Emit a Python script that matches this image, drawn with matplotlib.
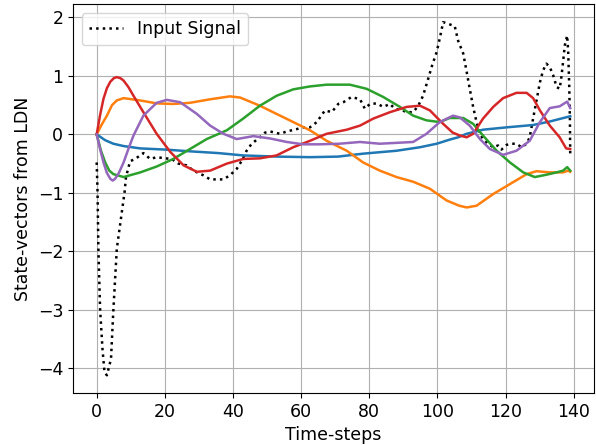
import matplotlib
matplotlib.use("Agg")
import matplotlib.pyplot as plt

# input signal
sig_t = [0, 0.25, 0.5, 1.0, 1.7, 2.3, 3.0, 4.2, 4.9, 5.9, 8.2, 8.6, 9.8, 11.3, 13.7, 15.7,
         17.6, 20.1, 22, 24, 26.4, 28.4, 31.3, 33.3, 35.7, 37.2, 39.1, 41.1, 42.6, 44, 45.5,
         47.9, 49.4, 50.9, 53.8, 55.8, 58.7, 60.6, 62.6, 64.6, 67, 69, 70.9, 72.4, 74.8,
         77.3, 78.7, 80.2, 82.2, 84.1, 86.1, 87.5, 89.5, 91.4, 92.9, 94.4, 95.8, 97.3, 98.3,
         99.8, 100.7, 101.7, 103.2, 105.1, 106.1, 107.6, 108.6, 109.5, 110.5, 111.5, 112.5,
         113.4, 114.9, 116.4, 117.8, 118.8, 120.3, 121.8, 123.2, 124.7, 126.2, 127.1, 128.1,
         129.1, 130.1, 131, 132, 133, 134, 135, 135.9, 136.4, 136.9, 137.4, 138.1, 138.4,
         138.7, 138.9, 139]
sig_v = [-0.48, -0.98, -1.96, -2.99, -3.67, -4.07, -4.12, -3.84, -3.0, -1.96, -0.98, -0.73,
         -0.46, -0.42, -0.32, -0.42, -0.39, -0.41, -0.42, -0.5, -0.53, -0.62, -0.7, -0.77,
         -0.77, -0.77, -0.7, -0.59, -0.45, -0.28, -0.16, -0.05, 0.03, 0.05, 0.01, 0.05, 0.09,
         0.12, 0.12, 0.21, 0.41, 0.38, 0.52, 0.55, 0.64, 0.6, 0.44, 0.52, 0.53, 0.47, 0.52,
         0.44, 0.41, 0.38, 0.38, 0.49, 0.66, 0.95, 1.15, 1.41, 1.64, 1.92, 1.89, 1.85, 1.6,
         1.38, 1.07, 0.78, 0.47, 0.21, 0.01, -0.08, -0.16, -0.22, -0.19, -0.26, -0.18, -0.16,
         -0.16, -0.22, -0.16, -0.05, 0.27, 0.58, 0.89, 1.09, 1.21, 1.15, 1.01, 0.81, 0.78,
         0.98, 1.24, 1.52, 1.69, 1.41, 0.84, 0.27, -0.38]

# LDN state vectors
blue_t = [0, 2.5, 4.9, 7.9, 12.8, 20.1, 27.4, 35.7, 43, 52.8, 62.6, 70.9, 78.2, 88, 94.9,
          99.8, 103.6, 106.1, 108.6, 113.4, 120.3, 128.1, 133, 139]
blue_v = [0, -0.1, -0.16, -0.2, -0.24, -0.26, -0.29, -0.32, -0.36, -0.38, -0.39, -0.38,
          -0.33, -0.28, -0.22, -0.16, -0.09, -0.05, 0.01, 0.08, 0.12, 0.16, 0.22, 0.31]

orange_t = [0, 1.5, 3, 4.5, 5.9, 7.9, 12.8, 17.6, 22.5, 27.4, 33.3, 39.1, 42.1, 47.9, 52.8,
            57.7, 62.6, 67.5, 73.4, 78.2, 83.1, 88, 92.9, 97.8, 102.7, 106.4, 108.6, 111.5,
            116.4, 121.3, 126.2, 129.1, 133, 136.9, 138.4, 139]
orange_v = [0, 0.17, 0.32, 0.5, 0.58, 0.62, 0.58, 0.53, 0.52, 0.54, 0.6, 0.65, 0.63, 0.49,
            0.35, 0.21, 0.07, -0.11, -0.28, -0.48, -0.62, -0.73, -0.81, -0.93, -1.13, -1.22,
            -1.25, -1.22, -1.02, -0.85, -0.68, -0.63, -0.65, -0.65, -0.62, -0.64]

green_t = [0, 1.2, 2.5, 3.7, 4.9, 7.9, 12.8, 17.6, 22.5, 27.4, 32.3, 38.2, 43, 47.9, 52.8,
           57.7, 62.6, 67.5, 74.3, 79.2, 84.1, 89, 92.9, 96.8, 100.7, 103.6, 107.6, 110.5,
           113.4, 117.4, 121.3, 125.2, 128.6, 132, 135, 136.9, 138.1, 139]
green_v = [0, -0.27, -0.48, -0.62, -0.68, -0.73, -0.65, -0.55, -0.42, -0.25, -0.08, 0.07,
           0.27, 0.49, 0.66, 0.77, 0.82, 0.85, 0.85, 0.78, 0.64, 0.47, 0.32, 0.24, 0.21,
           0.28, 0.28, 0.18, -0.02, -0.28, -0.48, -0.65, -0.73, -0.69, -0.65, -0.62, -0.56,
           -0.62]

red_t = [0, 1, 2, 3, 4, 5, 5.9, 7, 7.9, 9.3, 10.8, 13.7, 17.6, 21.6, 25.5, 29.4, 33.3,
         38.2, 43, 47.9, 52.8, 57.7, 62.6, 67.5, 73.4, 77.3, 81.2, 86.1, 91, 94.9, 97.8,
         101.7, 104.5, 106.6, 108.6, 110.5, 113.4, 116.4, 119.3, 123.2, 126.2, 128.1, 130.1,
         133, 135.9, 137.8, 139]
red_v = [0, 0.33, 0.61, 0.79, 0.9, 0.96, 0.98, 0.96, 0.92, 0.81, 0.66, 0.38, 0.01, -0.3,
         -0.53, -0.64, -0.62, -0.5, -0.42, -0.41, -0.36, -0.22, -0.11, 0.01, 0.08, 0.15,
         0.27, 0.38, 0.47, 0.49, 0.41, 0.18, 0.03, -0.02, -0.05, 0.01, 0.27, 0.47, 0.62,
         0.71, 0.71, 0.62, 0.41, 0.15, -0.05, -0.24, -0.25]

purple_t = [0, 1, 2, 3, 4, 4.7, 5.4, 6.5, 7.9, 9.3, 10.8, 13.7, 17.6, 20.6, 24.5, 29.4,
            33.3, 37.2, 41.1, 46, 50.9, 55.8, 60.6, 65.5, 71.2, 77.3, 83.1, 92.9, 96.8,
            100.7, 104.6, 106.6, 109.5, 112.5, 115.4, 119.3, 123.2, 127.1, 130.1, 133, 135.9,
            138.1, 139]
purple_v = [0, -0.25, -0.48, -0.66, -0.76, -0.79, -0.76, -0.66, -0.48, -0.25, -0.02, 0.32,
            0.54, 0.59, 0.55, 0.35, 0.15, 0.01, -0.08, -0.03, -0.07, -0.13, -0.17, -0.17,
            -0.16, -0.13, -0.16, -0.13, 0.01, 0.21, 0.32, 0.29, 0.15, -0.08, -0.25, -0.35,
            -0.28, -0.11, 0.21, 0.45, 0.48, 0.56, 0.45]

plt.rcParams["font.size"] = 12.5

fig = plt.figure(figsize=(5.96, 4.45), dpi=100)
ax = fig.add_axes([0.1225, 0.117, 0.874, 0.873])

ax.plot(sig_t, sig_v, "k:", linewidth=1.8, label="Input Signal")
ax.plot(blue_t, blue_v, color="tab:blue", linewidth=1.8)
ax.plot(orange_t, orange_v, color="tab:orange", linewidth=1.8)
ax.plot(green_t, green_v, color="tab:green", linewidth=1.8)
ax.plot(red_t, red_v, color="tab:red", linewidth=1.8)
ax.plot(purple_t, purple_v, color="tab:purple", linewidth=1.8)

ax.set_xlabel("Time-steps")
ax.set_ylabel("State-vectors from LDN")
ax.legend(loc="upper left")
ax.grid(True)

plt.savefig("out.png")
